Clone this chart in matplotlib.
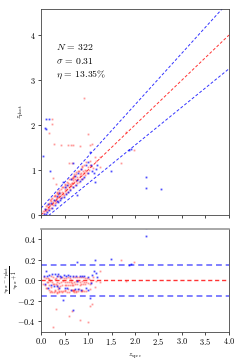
import matplotlib
matplotlib.use("Agg")
import matplotlib.pyplot as plt
import numpy as np

plt.rcParams['mathtext.fontset'] = 'cm'
plt.rcParams['font.family'] = ['DejaVu Serif']

# red sample (z_spec, z_phot)
red_zspec = [0.05, 0.07, 0.08, 0.10, 0.11, 0.12, 0.13, 0.14, 0.15, 0.16, 0.17, 0.18, 0.19, 0.20,
             0.21, 0.22, 0.23, 0.24, 0.25, 0.26, 0.27, 0.28, 0.29, 0.30, 0.31, 0.32, 0.33, 0.34,
             0.35, 0.36, 0.37, 0.38, 0.39, 0.40, 0.41, 0.42, 0.43, 0.44, 0.45, 0.46, 0.47, 0.48,
             0.50, 0.51, 0.52, 0.53, 0.54, 0.55, 0.56, 0.57, 0.58, 0.59, 0.60, 0.61, 0.62, 0.63,
             0.64, 0.65, 0.66, 0.67, 0.68, 0.69, 0.70, 0.71, 0.72, 0.73, 0.74, 0.75, 0.76, 0.77,
             0.78, 0.79, 0.80, 0.82, 0.83, 0.84, 0.85, 0.86, 0.87, 0.88, 0.89, 0.90, 0.91, 0.92,
             0.93, 0.94, 0.95, 0.96, 0.98, 1.00, 1.02, 1.04, 1.06, 1.10, 1.14, 1.18, 1.26, 1.81,
             1.70, 1.97, 0.23, 0.24, 0.18, 0.91, 0.99, 0.28, 0.42, 0.58, 0.63, 0.69, 0.83, 0.31,
             0.26, 0.60, 1.09, 1.05, 0.65, 1.04, 1.26, 0.22, 0.33, 0.38, 0.45, 0.52, 0.57, 0.66,
             0.70, 0.74, 0.81, 0.88, 0.36, 0.29, 0.64, 0.67, 0.71]
red_zphot = [0.09, 0.04, 0.13, 0.08, 0.19, 0.14, 0.22, 0.11, 0.17, 0.27, 0.15, 0.24, 0.33, 0.21,
             0.16, 0.30, 0.25, 0.38, 0.29, 0.22, 0.41, 0.33, 0.27, 0.44, 0.36, 0.29, 0.39, 0.50,
             0.37, 0.31, 0.46, 0.42, 0.55, 0.37, 0.49, 0.44, 0.58, 0.40, 0.52, 0.47, 0.62, 0.45,
             0.57, 0.53, 0.68, 0.49, 0.61, 0.57, 0.74, 0.52, 0.66, 0.62, 0.79, 0.57, 0.69, 0.66,
             0.64, 0.72, 0.70, 0.85, 0.63, 0.77, 0.73, 0.90, 0.66, 0.80, 0.76, 0.95, 0.71, 0.84,
             0.80, 0.98, 0.74, 0.90, 0.86, 1.03, 0.80, 0.93, 0.89, 1.08, 0.83, 0.97, 0.94, 1.12,
             0.88, 1.01, 0.98, 1.17, 0.93, 1.06, 1.00, 1.21, 1.09, 1.04, 1.29, 1.20, 1.06, 1.84,
             1.16, 1.45, 2.13, 2.03, 1.83, 2.59, 1.80, 1.57, 1.56, 1.56, 1.56, 1.56, 1.53, 0.68,
             0.83, 1.15, 1.57, 1.56, 1.15, 1.11, 1.29, 0.35, 0.48, 0.52, 0.62, 0.66, 0.71, 0.82,
             0.86, 0.92, 0.97, 1.06, 0.47, 0.41, 0.79, 0.83, 0.87]

# blue sample (z_spec, z_phot)
blue_zspec = [0.06, 0.09, 0.12, 0.15, 0.18, 0.21, 0.24, 0.27, 0.30, 0.33, 0.35, 0.36, 0.38, 0.40,
              0.43, 0.46, 0.48, 0.50, 0.53, 0.55, 0.58, 0.62, 0.64, 0.67, 0.69, 0.72, 0.74, 0.76,
              0.79, 0.82, 0.85, 0.88, 0.92, 0.95, 1.00, 1.04, 1.08, 1.13, 1.15, 1.20, 0.10, 0.17,
              0.09, 0.10, 0.04, 0.20, 2.23, 2.23, 2.55, 1.49, 1.87, 1.91, 0.11, 0.99, 1.06, 1.18,
              0.77]
blue_zphot = [0.02, 0.13, 0.07, 0.24, 0.12, 0.27, 0.16, 0.34, 0.22, 0.41, 0.30, 0.28, 0.49, 0.34,
              0.38, 0.74, 0.40, 0.62, 0.47, 0.67, 0.50, 0.56, 0.79, 1.15, 0.62, 0.87, 0.66, 0.45,
              0.94, 0.75, 1.02, 0.80, 0.84, 1.10, 0.93, 1.39, 0.98, 0.94, 0.73, 1.12, 2.13, 2.13,
              1.94, 1.91, 1.30, 0.97, 0.85, 0.59, 0.58, 0.98, 1.44, 1.46, 0.01, 1.18, 1.11, 1.02,
              0.78]

N_text = r'$N\,=\,322$'
sigma_text = r'$\sigma\,=\,0.31$'
eta_text = r'$\eta\,=\,13.35\%$'

rzs, rzp = np.array(red_zspec), np.array(red_zphot)
bzs, bzp = np.array(blue_zspec), np.array(blue_zphot)

fig = plt.figure(figsize=(2.4, 3.6), dpi=100)
ax1 = fig.add_axes([0.171, 0.403, 0.783, 0.572])
ax2 = fig.add_axes([0.171, 0.079, 0.783, 0.285])

xl = np.array([0.0, 4.0])
ax1.plot(xl, xl, '--', color='red', lw=0.7, alpha=0.8, dashes=(3, 2))
ax1.plot(xl, xl + 0.15 * (1 + xl), '--', color='blue', lw=0.7, alpha=0.8, dashes=(3, 2))
ax1.plot(xl, xl - 0.15 * (1 + xl), '--', color='blue', lw=0.7, alpha=0.8, dashes=(3, 2))
ax1.plot(rzs, rzp, 's', color='red', ms=1.3, mew=0, alpha=0.4)
ax1.plot(bzs, bzp, 's', color='blue', ms=1.3, mew=0, alpha=0.7)
ax1.set_xlim(0, 4)
ax1.set_ylim(0, 4.58)
ax1.set_yticks([0, 1, 2, 3, 4])
ax1.set_xticks(np.arange(0, 4.01, 0.5))
ax1.set_xticklabels([])
ax1.set_yticklabels([r'$0$', r'$1$', r'$2$', r'$3$', r'$4$'])
ax1.set_ylabel(r'$z_{\rm phot}$', fontsize=5, labelpad=3)
ax1.text(0.08, 0.815, N_text, transform=ax1.transAxes, fontsize=7, va='center')
ax1.text(0.08, 0.748, sigma_text, transform=ax1.transAxes, fontsize=7, va='center')
ax1.text(0.08, 0.68, eta_text, transform=ax1.transAxes, fontsize=7, va='center')

rres = (rzs - rzp) / (rzs + 1)
bres = (bzs - bzp) / (bzs + 1)
ax2.axhline(0, ls='--', color='red', lw=1.0, alpha=0.8, dashes=(3, 2))
ax2.axhline(0.15, ls='--', color='blue', lw=1.4, alpha=0.5, dashes=(3, 2))
ax2.axhline(-0.15, ls='--', color='blue', lw=1.4, alpha=0.5, dashes=(3, 2))
ax2.plot(rzs, rres, 's', color='red', ms=1.3, mew=0, alpha=0.4)
ax2.plot(bzs, bres, 's', color='blue', ms=1.3, mew=0, alpha=0.7)
ax2.set_xlim(0, 4)
ax2.set_ylim(-0.5, 0.5)
ax2.set_xticks(np.arange(0, 4.01, 0.5))
ax2.set_yticks([-0.4, -0.2, 0.0, 0.2, 0.4])
ax2.set_xticklabels([r'$0.0$', r'$0.5$', r'$1.0$', r'$1.5$', r'$2.0$', r'$2.5$', r'$3.0$',
                     r'$3.5$', r'$4.0$'])
ax2.set_yticklabels([r'$-0.4$', r'$-0.2$', r'$0.0$', r'$0.2$', r'$0.4$'])
ax2.set_xlabel(r'$z_{\rm spec}$', fontsize=5, labelpad=3)
fig.text(0.05, 0.222, r'$\frac{z_{\rm spec}-z_{\rm phot}}{z_{\rm spec}+1}$', fontsize=5.5,
         rotation=90, ha='center', va='center')

for ax in (ax1, ax2):
    ax.tick_params(labelsize=6, length=2, width=0.5, pad=1.5)
    for s in ax.spines.values():
        s.set_linewidth(0.6)
        s.set_color('#444444')
ax2.spines['top'].set_color('#999999')
ax2.spines['top'].set_linewidth(1.2)

fig.savefig('out.png', dpi=100)
